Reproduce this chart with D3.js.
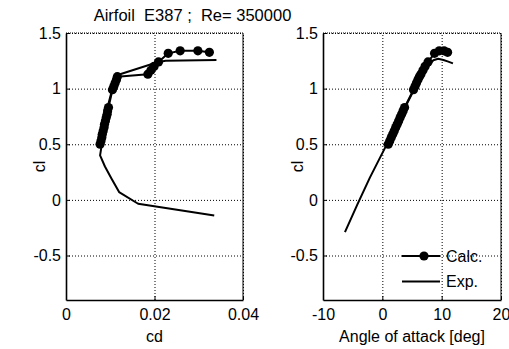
<!DOCTYPE html>
<html><head><meta charset="utf-8">
<script src="https://cdn.jsdelivr.net/npm/d3@7"></script>
<style>body{margin:0;background:#fff}svg{display:block}text{font-family:"Liberation Sans",Arial,sans-serif;fill:#000}</style>
</head><body>
<svg id="c" width="509" height="349"></svg>
<script>
// Calculated polar (shared)
const calcAlpha = [1.0,1.25,1.5,1.75,2.0,2.25,2.5,2.75,3.0,3.25,3.5,3.75,5.25,5.5,5.75,6.0,6.25,6.5,6.85,7.2,7.7,8.8,9.6,10.4,11.0];
const calcCl    = [0.50,0.53,0.56,0.59,0.62,0.65,0.68,0.71,0.74,0.77,0.80,0.83,0.99,1.02,1.05,1.08,1.107,1.13,1.165,1.20,1.24,1.317,1.34,1.34,1.326];
const calcCd    = [0.0077,0.0079,0.0081,0.0082,0.0084,0.0086,0.0087,0.0089,0.0091,0.0093,0.0094,0.0096,0.0105,0.0108,0.0111,0.0114,0.0116,0.0185,0.0192,0.0199,0.0209,0.0231,0.0258,0.0298,0.0324];
// Experimental drag polar
const expPolarCd = [0.0335,0.0163,0.0120,0.0103,0.0088,0.0077,0.0085,0.0095,0.0105,0.0115,0.0205,0.0225,0.0340];
const expPolarCl = [-0.14,-0.035,0.07,0.19,0.30,0.40,0.60,0.85,1.00,1.12,1.235,1.25,1.257];
// Experimental lift curve
const expAlpha = [-6.3,-4.2,-2.1,0.0,2.1,4.1,6.1,8.0,8.6,9.4,10.3,11.0,11.9];
const expCl    = [-0.29,-0.04,0.20,0.42,0.64,0.86,1.07,1.22,1.255,1.268,1.257,1.245,1.227];
// Axes / ticks
const cdTicks = [0,0.02,0.04];
const cdTickLabels = ["0","0.02","0.04"];
const alphaTicks = [-10,0,10,20];
const alphaTickLabels = ["-10","0","10","20"];
const clTicks = [-0.5,0,0.5,1,1.5];
const clTickLabels = ["-0.5","0","0.5","1","1.5"];
const title = "Airfoil\u00a0\u00a0E387 ;\u00a0\u00a0Re= 350000";
const legendLabels = ["Calc.","Exp."];

const svg = d3.select("#c");
svg.append("rect").attr("width",509).attr("height",349).attr("fill","#fff");
const FS = 16;
const yTop = 33, yBot = 300;

function panel(x0,x1,xDomain,xTicks,xLabels,xTitle,ylabX){
  const x = d3.scaleLinear().domain(xDomain).range([x0,x1]);
  const y = d3.scaleLinear().domain([-0.9,1.5]).range([yBot,yTop]);
  const g = svg.append("g");
  const gx = g.append("g").attr("transform",`translate(0,${yBot})`)
    .call(d3.axisBottom(x).tickValues(xTicks).tickSize(-(yBot-yTop)).tickFormat(""));
  gx.select(".domain").remove();
  gx.selectAll("line").attr("stroke","#000").attr("stroke-width",1).attr("stroke-dasharray","1,2");
  const gy = g.append("g").attr("transform",`translate(${x0},0)`)
    .call(d3.axisLeft(y).tickValues(clTicks).tickSize(-(x1-x0)).tickFormat(""));
  gy.select(".domain").remove();
  gy.selectAll("line").attr("stroke","#000").attr("stroke-width",1).attr("stroke-dasharray","1,2");
  const ax = g.append("g").attr("transform",`translate(0,${yBot})`)
    .call(d3.axisBottom(x).tickValues(xTicks).tickSizeInner(-4).tickSizeOuter(0).tickPadding(8.5).tickFormat((d,i)=>xLabels[i]));
  ax.select(".domain").attr("stroke","#000").attr("stroke-width",1.6);
  ax.selectAll("text").attr("font-size",FS).attr("font-family","Liberation Sans, Arial, sans-serif");
  const ay = g.append("g").attr("transform",`translate(${x0},0)`)
    .call(d3.axisLeft(y).tickValues(clTicks).tickSizeInner(-4).tickSizeOuter(0).tickPadding(5).tickFormat((d,i)=>clTickLabels[i]));
  ay.select(".domain").attr("stroke","#000").attr("stroke-width",1.6);
  ay.selectAll("text").attr("font-size",FS).attr("font-family","Liberation Sans, Arial, sans-serif");
  g.append("line").attr("x1",x1).attr("x2",x1).attr("y1",yTop).attr("y2",yBot).attr("stroke","#000").attr("stroke-width",1);
  g.append("line").attr("x1",x0).attr("x2",x1).attr("y1",yTop).attr("y2",yTop).attr("stroke","#000").attr("stroke-width",1).attr("stroke-dasharray","1,1");
  g.append("text").attr("x",(x0+x1)/2).attr("y",341.5).attr("text-anchor","middle").attr("font-size",FS).text(xTitle);
  g.append("text").attr("transform",`translate(${ylabX},${(yTop+yBot)/2}) rotate(-90)`).attr("text-anchor","middle").attr("font-size",FS).text("cl");
  return {x,y,g};
}

const L = panel(66,243,[0,0.04],cdTicks,cdTickLabels,"cd",45);
const R = panel(323,501,[-10,20],alphaTicks,alphaTickLabels,"Angle of attack [deg]",303);

function drawLine(p,xs,ys,marker){
  const pts = xs.map((v,i)=>[p.x(v),p.y(ys[i])]);
  p.g.append("path").attr("d",d3.line()(pts)).attr("fill","none").attr("stroke","#000").attr("stroke-width",2).attr("stroke-linejoin","round");
  if(marker){
    p.g.selectAll(null).data(pts).enter().append("circle").attr("cx",d=>d[0]).attr("cy",d=>d[1]).attr("r",4.6).attr("fill","#000");
  }
}
drawLine(L,expPolarCd,expPolarCl,false);
drawLine(L,calcCd,calcCl,true);
drawLine(R,expAlpha,expCl,false);
drawLine(R,calcAlpha,calcCl,true);

const lg = svg.append("g");
[0,1].forEach(i=>{
  const yy = 256 + i*25.5;
  lg.append("line").attr("x1",402).attr("x2",440).attr("y1",yy).attr("y2",yy).attr("stroke","#000").attr("stroke-width",2);
  if(i===0) lg.append("circle").attr("cx",424).attr("cy",yy).attr("r",4.6).attr("fill","#000");
  lg.append("text").attr("x",446).attr("y",yy+5.5).attr("font-size",FS).text(legendLabels[i]);
});
svg.append("text").attr("x",192.5).attr("y",21).attr("text-anchor","middle").attr("font-size",16.5).text(title);
</script>
</body></html>
